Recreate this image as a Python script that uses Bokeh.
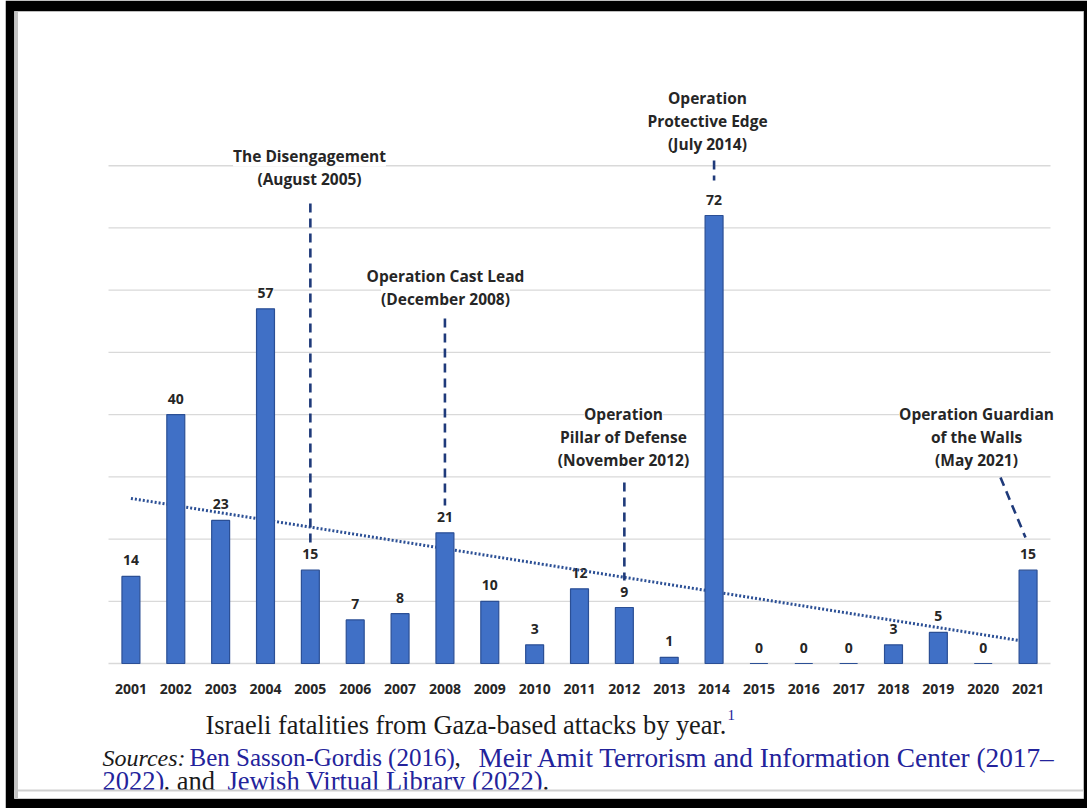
import numpy as np
from bokeh.plotting import figure
from bokeh.models import Range1d, LinearAxis, FixedTicker, Label, Span, BoxAnnotation
from bokeh.core.properties import value
from bokeh.embed import file_html
from bokeh.resources import INLINE

# ---- data -------------------------------------------------------------
years = list(range(2001, 2022))
year_labels = [str(y) for y in years]
fatalities = [14, 40, 23, 57, 15, 7, 8, 21, 10, 3, 12, 9, 1, 72, 0, 0, 0, 3, 5, 0, 15]
grid_levels = [0, 10, 20, 30, 40, 50, 60, 70, 80]

event_years = [2005, 2008, 2012, 2014, 2021]
event_titles = [
    "The Disengagement\n(August 2005)",
    "Operation Cast Lead\n(December 2008)",
    "Operation\nPillar of Defense\n(November 2012)",
    "Operation\nProtective Edge\n(July 2014)",
    "Operation Guardian\nof the Walls\n(May 2021)",
]

caption = "Israeli fatalities from Gaza-based attacks by year."
footnote_mark = "1"
source_line1 = [("Sources:", "black", "italic"),
                ("Ben Sasson-Gordis (2016)", "blue", "normal"),
                (",", "black", "normal"),
                ("Meir Amit Terrorism and Information Center (2017\u2013", "blue", "normal")]
source_line2 = [("2022)", "blue", "normal"),
                (". and ", "black", "normal"),
                ("Jewish Virtual Library (2022)", "blue", "normal"),
                (".", "black", "normal")]

# ---- page geometry (pixels) -------------------------------------------
MARGIN = (0, 2, 4, 5)                  # top, right, bottom, left
FIG_W, FIG_H = 1089 - MARGIN[1] - MARGIN[3], 812 - MARGIN[0] - MARGIN[2]
FRAME_L, FRAME_R, FRAME_T, FRAME_B = 14, 1083, 11, 798
X_FIRST, PX_PER_YEAR = 130.43, 44.857   # pixel centre of first year, spacing
Y_ZERO, PX_PER_UNIT = 663.0, 6.222      # pixel row of zero, pixels per fatality


def x_at(px):
    return years[0] + (px - X_FIRST) / PX_PER_YEAR


def y_at(py):
    return (Y_ZERO - py) / PX_PER_UNIT


SANS = "Open Sans"
SERIF = "Liberation Serif"
INK = "#262626"
BAR_FILL = "#4070C6"
BAR_EDGE = "#2B4F95"
DASH_BLUE = "#1F3A7A"
LINK_BLUE = "#23239b"

p = figure(width=FIG_W, height=FIG_H, margin=MARGIN,
           x_range=Range1d(x_at(FRAME_L), x_at(FRAME_R)),
           y_range=Range1d(y_at(FRAME_B), y_at(FRAME_T)),
           x_axis_location=None, y_axis_location=None,
           output_backend="svg", toolbar_location=None,
           min_border_left=FRAME_L - MARGIN[3],
           min_border_right=MARGIN[3] + FIG_W - FRAME_R,
           min_border_top=FRAME_T - MARGIN[0],
           min_border_bottom=MARGIN[0] + FIG_H - FRAME_B)
p.border_fill_color = "black"
p.background_fill_color = "white"
p.outline_line_color = "#bdbdbd"
p.grid.visible = False

# year axis pinned to the zero line
xaxis = LinearAxis(ticker=FixedTicker(ticks=years), fixed_location=0,
                   major_label_overrides={y: s for y, s in zip(years, year_labels)})
xaxis.axis_line_color = None
xaxis.major_tick_line_color = None
xaxis.minor_tick_line_color = None
xaxis.major_tick_out = 0
xaxis.major_label_standoff = 20
xaxis.major_label_text_font = SANS
xaxis.major_label_text_font_style = "bold"
xaxis.major_label_text_font_size = "14px"
xaxis.major_label_text_color = INK
p.add_layout(xaxis, "below")

# horizontal gridlines limited to the category band
half = 0.5
p.segment(x0=years[0] - half, x1=years[-1] + half, y0=grid_levels, y1=grid_levels,
          line_color="#d9d9d9", line_width=1.3)

# value labels above bars
p.text(x=years, y=fatalities, text=[str(v) for v in fatalities],
       text_font=value(SANS), text_font_style="bold", text_font_size="14px",
       text_align="center", text_baseline="middle", y_offset=-16,
       text_color=INK, background_fill_color="white")

# linear trend of the yearly counts
coef = np.polyfit(years, fatalities, 1)
p.line(years, np.polyval(coef, years), line_color=BAR_EDGE, line_width=3,
       line_dash="2 2")

# bars
p.vbar(x=years, top=fatalities, width=0.4, fill_color=BAR_FILL,
       line_color=BAR_EDGE, line_width=1.2)

# event markers: dashed leaders and their captions
leader_top = [203, 318, 482, 160, 477]
leader_bot = [545, 505, 580, 180, 537]
leader_x0 = list(map(float, event_years))
leader_x1 = list(leader_x0)
leader_x0[-1] = x_at(1000)
leader_x1[-1] = x_at(1025)
p.segment(x0=leader_x0, x1=leader_x1,
          y0=[y_at(v) for v in leader_top], y1=[y_at(v) for v in leader_bot],
          line_color=DASH_BLUE, line_width=2.6, line_dash="9 6")

title_cx = [309, 445, 623, 707, 976]
title_top = [155, 275, 413, 97, 413]
LINE_STEP = 23
for cx, ty, title in zip(title_cx, title_top, event_titles):
    for i, line in enumerate(title.split("\n")):
        p.add_layout(Label(x=x_at(cx), y=y_at(ty + i * LINE_STEP), text=line,
                           text_align="center", text_baseline="middle",
                           text_font=SANS, text_font_style="bold",
                           text_font_size="15.5px", text_color=INK,
                           background_fill_color="white"))

# caption and sources (left edge, vertical centre, font size per run)
colors = {"blue": LINK_BLUE, "black": "#1a1a1a"}
p.add_layout(Label(x=x_at(205), y=y_at(724), text=caption, text_align="left",
                   text_baseline="middle", text_font=SERIF,
                   text_font_size="26.4px", text_color="#1a1a1a"))
p.add_layout(Label(x=x_at(727), y=y_at(714), text=footnote_mark, text_align="left",
                   text_baseline="middle", text_font=SERIF,
                   text_font_size="15px", text_color=LINK_BLUE))

line1_runs = zip(source_line1, [102, 189, 454, 478], [24, 25, 25, 27.3])
line2_runs = zip(source_line2, [102, 163, 227, 542], [26.5, 26.5, 26.5, 26.5])
for runs, cy in ((line1_runs, 757), (line2_runs, 780)):
    for (txt, col, style), sx, size in runs:
        p.add_layout(Label(x=x_at(sx), y=y_at(cy), text=txt, text_align="left",
                           text_baseline="middle", text_font=SERIF,
                           text_font_style=style, text_font_size=f"{size}px",
                           text_color=colors[col]))

# trimmed bottom edge of the panel
p.add_layout(BoxAnnotation(top=y_at(790), fill_color="white", fill_alpha=1.0,
                           line_color=None))
p.add_layout(Span(location=y_at(790), dimension="width", line_color="#cfcfcf",
                  line_width=2))
p.add_layout(Span(location=x_at(16), dimension="height", line_color="#c4c4c4",
                  line_width=3))

open("out.html", "w").write(file_html(p, INLINE))
